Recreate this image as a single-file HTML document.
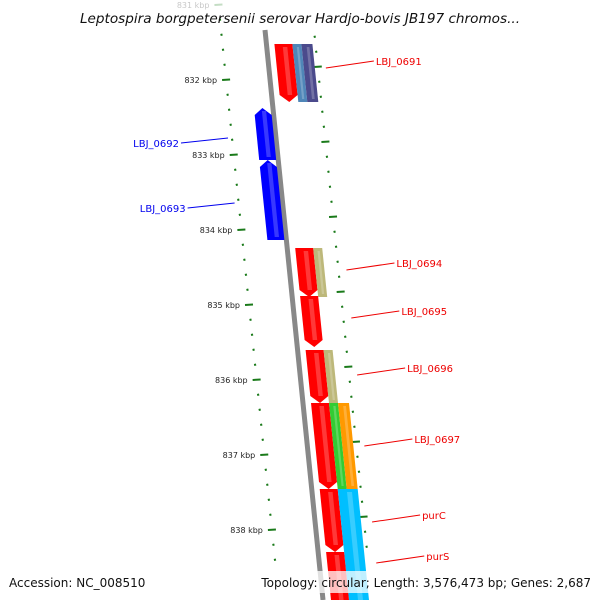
<!DOCTYPE html>
<html><head><meta charset="utf-8"><style>
body{margin:0;background:#fff}
svg{display:block;font-family:"DejaVu Sans","Liberation Sans",sans-serif}
</style></head><body>
<svg id="c" width="600" height="600" viewBox="0 0 600 600">
<g id="ticks"></g>
<line id="bb" stroke="#888" stroke-width="5"/>
<g id="genes"></g>
<g id="labels"></g>
<rect x="0" y="571" width="600" height="22" fill="#fff" opacity="0.75"/>
<text x="300" y="23" text-anchor="middle" font-size="13.6" font-style="italic" fill="#111">Leptospira borgpetersenii serovar Hardjo-bovis JB197 chromos...</text>
<text x="9" y="587" font-size="12" fill="#111">Accession: NC_008510</text>
<text x="591" y="587" text-anchor="end" font-size="12" fill="#111">Topology: circular; Length: 3,576,473 bp; Genes: 2,687</text>
</svg>
<script>
const tickKbp=[831,832,833,834,835,836,837,838];
const geneNames=["g1","g2","g3","LBJ_0692","LBJ_0693","g4","g5","g6","g7","g8","g9","g10","g11","g12","g13","g14"];
const geneStart=[44,44,44,108,160,248,248,296,350,350,403,403,403,489,489,552];
const geneEnd=[102,102,102,160,240,297,297,347,403,403,489,489,489,552,610,610];
const geneLane=[1,2,3,-1,-1,1,2,1,1,2,1,2,3,1,23,1];
const geneColor=["#ff0000","#4f86b8","#4b4a8c","#0000ff","#0000ff","#ff0000","#bdb87a","#ff0000","#ff0000","#bdb87a","#ff0000","#33cc33","#ff9900","#ff0000","#00bfff","#ff0000"];
const labelText=["LBJ_0691","LBJ_0692","LBJ_0693","LBJ_0694","LBJ_0695","LBJ_0696","LBJ_0697","purC","purS"];
const labelY=[61,143,208,263,311,368,439,515,556];
const labelSide=[1,-1,-1,1,1,1,1,1,1];
const NS="http://www.w3.org/2000/svg";
function bb(y){return 265+(y-30)*0.1018;}
function ky(k){return 80+(k-832)*75;}
function mk(t,a,p){const e=document.createElementNS(NS,t);for(const k in a)e.setAttribute(k,a[k]);p.appendChild(e);return e;}
const B=document.getElementById('bb');B.setAttribute('x1',bb(30));B.setAttribute('y1',30);B.setAttribute('x2',bb(600));B.setAttribute('y2',600);
const T=document.getElementById('ticks');
for(let i=0;i<tickKbp.length;i++){
 for(let j=0;j<5;j++){
  const y=ky(tickKbp[i])+j*15; if(y<0||y>565)continue;
  const x=bb(y)-44; const maj=j==0; const op=y<15?0.25:1;
  const d=mk('line',{x1:x-(maj?4:1),y1:y,x2:x+(maj?4:1),y2:y-0.5,stroke:'#1a7a1a','stroke-width':2,opacity:op},T);
  
  
  const y2=y-13; if(y2>30&&y2<575){const x2=bb(y2)+49;
  const r=mk('line',{x1:x2-(maj?4:1),y1:y2,x2:x2+(maj?4:1),y2:y2-0.5,stroke:'#1a7a1a','stroke-width':2},T);
  
  }
  if(maj){const t=mk('text',{x:x-9,y:y+3,'text-anchor':'end','font-size':8,fill:'#222',opacity:op},T);t.textContent=tickKbp[i]+' kbp';
  
  }
 }
}
const lanes={'1':[8,26],'2':[26,35],'3':[35,46],'-1':[-19,-2],'23':[26,46]};
const G=document.getElementById('genes');
for(let i=0;i<geneNames.length;i++){
 const [a,b]=lanes[geneLane[i]];const y0=geneStart[i],y1=geneEnd[i];
 const f=(o,y)=>(bb(y)+o).toFixed(1)+','+y;
 let pts;
 const tip=7;
 if(geneLane[i]==1){pts=[f(a,y0),f(b,y0),f(b,y1-tip),f((a+b)/2,y1),f(a,y1-tip)];}
 else if(geneLane[i]==-1){pts=[f((a+b)/2,y0),f(b,y0+tip),f(b,y1),f(a,y1),f(a,y0+tip)];}
 else pts=[f(a,y0),f(b,y0),f(b,y1),f(a,y1)];
 const p=mk('polygon',{points:pts.join(' '),fill:geneColor[i]},G);
 
 
 const w=(b-a)*0.25, s=a+(b-a)*0.45;
 const h=mk('polygon',{points:[f(s,y0+3),f(s+w,y0+3),f(s+w,y1-(geneLane[i]==1?tip:3)),f(s,y1-(geneLane[i]==1?tip:3))].join(' '),fill:'#fff',opacity:0.22},G);
 
 
}
const L=document.getElementById('labels');
for(let i=0;i<labelText.length;i++){
 const y=labelY[i];const right=labelSide[i]>0;const col=right?'#e00':'#00e';
 let x1,x2,tx;
 if(right){x1=bb(y+7)+57;x2=x1+48;tx=x2+2;}else{x2=bb(y-5)-48;x1=x2-47;tx=x1-2;}
 const l=mk('line',{x1:x1,y1:right?y+7:y,x2:x2,y2:right?y:y-5,stroke:col,'stroke-width':1},L);
 
 
 const t=mk('text',{x:tx,y:y+4,'text-anchor':right?'start':'end','font-size':10,fill:col},L);t.textContent=labelText[i];
 
 
}
</script>
</body></html>
